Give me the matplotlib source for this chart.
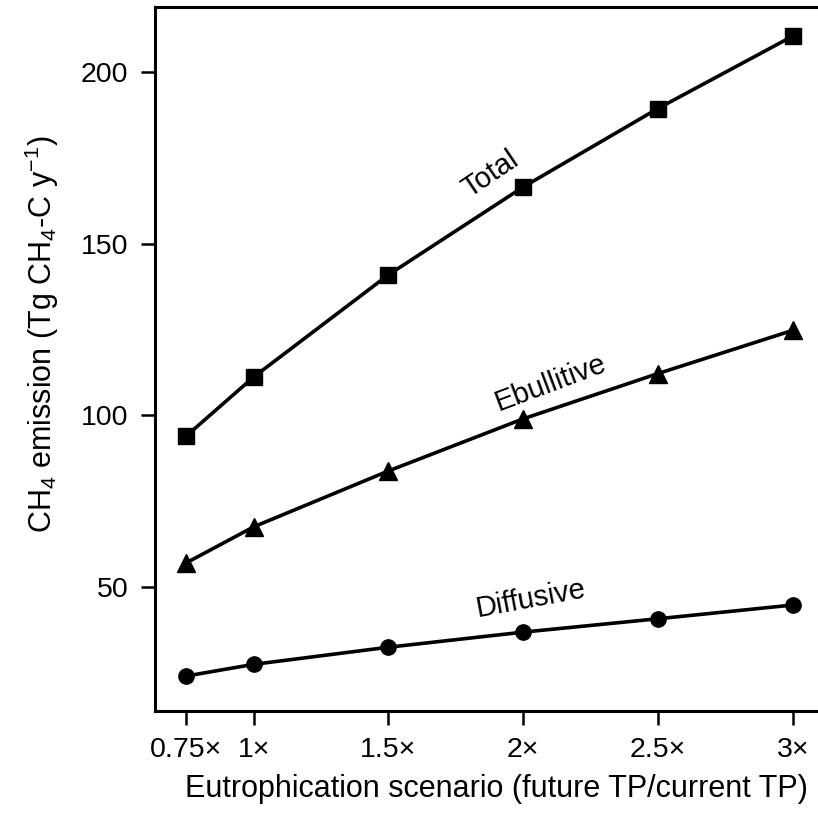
import matplotlib
matplotlib.use('Agg')
import matplotlib.pyplot as plt

plt.rcParams['font.family'] = ['Liberation Sans', 'DejaVu Sans']
plt.rcParams['mathtext.default'] = 'regular'

# eutrophication scenario (future TP / current TP)
scenario = [0.75, 1.0, 1.5, 2.0, 2.5, 3.0]
tick_labels = ['0.75\u00d7', '1\u00d7', '1.5\u00d7', '2\u00d7', '2.5\u00d7', '3\u00d7']

total = [94.0, 111.2, 141.0, 166.6, 189.5, 210.6]
ebullitive = [57.0, 67.5, 83.8, 99.0, 112.2, 124.8]
diffusive = [24.0, 27.4, 32.4, 36.8, 40.7, 44.7]

fig = plt.figure(figsize=(8.18, 8.13), dpi=100)
ax = fig.add_axes([155 / 818, 1 - 711 / 813, 1 - 155 / 818 + 0.002, (711 - 7) / 813])

lw = 2.6
ax.plot(scenario, total, color='black', lw=lw, marker='s', markersize=11.5)
ax.plot(scenario, ebullitive, color='black', lw=lw, marker='^', markersize=13)
ax.plot(scenario, diffusive, color='black', lw=lw, marker='o', markersize=11)

ax.text(1.88, 170.5, 'Total', rotation=34, fontsize=21, ha='center', va='center')
ax.text(2.10, 109.3, 'Ebullitive', rotation=20.5, fontsize=21, ha='center', va='center')
ax.text(2.03, 46.5, 'Diffusive', rotation=10.5, fontsize=21, ha='center', va='center')

ax.set_xlim(0.634, 3.10)
ax.set_ylim(13.8, 219.1)
ax.set_xticks(scenario)
ax.set_xticklabels(tick_labels)
ax.set_yticks([50, 100, 150, 200])

ax.tick_params(direction='out', length=10, width=1.8, labelsize=20.5, pad=9)
for s in ax.spines.values():
    s.set_linewidth(2.2)

ax.set_xlabel('Eutrophication scenario (future TP/current TP)', fontsize=22)
ax.set_ylabel('CH$_4$ emission (Tg CH$_4$-C y$^{-1}$)', fontsize=22)
ax.xaxis.set_label_coords(0.514, -0.09)
ax.yaxis.set_label_coords(-0.142, 0.535)

fig.savefig('out.png', dpi=100)
